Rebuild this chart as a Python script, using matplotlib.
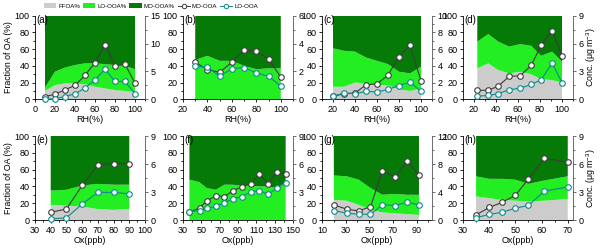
import numpy as np
import matplotlib.pyplot as plt
from matplotlib.ticker import AutoMinorLocator
from matplotlib.patches import Patch
from matplotlib.lines import Line2D

plt.rcParams['font.family'] = ['Liberation Sans', 'DejaVu Sans']
plt.rcParams['mathtext.default'] = 'regular'

# ---- data ----
# (a) RH
x_a = [10, 20, 30, 40, 50, 60, 70, 80, 90, 100]
ffoa_a = [10, 17, 19, 19, 18, 15, 13, 11, 10, 9]
lo_a = [4, 16, 19, 22, 25, 28, 29, 30, 30, 27]
moc_a = [0.5, 0.9, 1.7, 2.5, 4.3, 6.6, 9.8, 6.0, 6.3, 2.9]
loc_a = [0.0, 0.1, 0.5, 1.0, 2.0, 3.5, 5.4, 3.2, 3.2, 1.0]

# (b) RH, no FFOA
x_b = [30, 40, 50, 60, 70, 80, 90, 100]
lo_b = [47, 52, 46, 46, 40, 36, 37, 37]
moc_b = [2.66, 2.13, 1.94, 2.66, 3.53, 3.46, 2.86, 1.6]
loc_b = [2.37, 2.32, 1.65, 2.2, 2.28, 1.89, 1.65, 0.94]

# (c) RH
x_c = [20, 30, 40, 50, 60, 70, 80, 90, 100]
ffoa_c = [15, 15, 20, 19, 17, 17, 12, 10, 13]
lo_c = [46, 43, 37, 31, 29, 25, 21, 21, 26]
moc_c = [0.35, 0.67, 0.75, 1.73, 1.85, 2.9, 5.1, 6.5, 2.2]
loc_c = [0.35, 0.75, 0.67, 0.94, 0.87, 1.18, 1.65, 2.05, 0.94]

# (d) RH
x_d = [23, 33, 42, 52, 62, 72, 81, 91, 100]
ffoa_d = [37, 43, 35, 31, 33, 30, 24, 23, 20]
lo_d = [32, 35, 34, 32, 33, 34, 28, 34, 25]
moc_d = [0.97, 0.97, 1.42, 2.46, 2.54, 3.66, 5.8, 7.4, 4.7]
loc_d = [0.34, 0.41, 0.6, 1.04, 1.19, 1.6, 2.1, 3.9, 1.8]

# (e) Ox
x_e = [40, 50, 60, 70, 80, 90]
ffoa_e = [18, 17, 16, 13, 12, 13]
lo_e = [17, 19, 25, 30, 30, 29]
moc_e = [0.82, 1.18, 3.7, 5.9, 6.05, 6.0]
loc_e = [0.1, 0.25, 1.7, 2.96, 2.96, 2.8]

# (f) Ox, no FFOA
x_f = [37, 48, 56, 66, 75, 84, 94, 104, 113, 123, 132, 142]
lo_f = [48, 45, 38, 36, 42, 42, 41, 41, 40, 40, 38, 45]
moc_f = [0.82, 1.3, 2.07, 2.6, 2.5, 3.1, 3.57, 3.9, 4.9, 3.9, 5.1, 4.9]
loc_f = [0.9, 1.0, 1.25, 1.46, 1.86, 2.25, 2.5, 3.0, 3.14, 2.75, 3.4, 4.0]

# (g) Ox
x_g = [20, 31, 41, 51, 61, 72, 82, 92]
ffoa_g = [24, 23, 18, 12, 9, 8, 7, 6]
lo_g = [29, 29, 30, 26, 21, 23, 23, 24]
moc_g = [2.16, 1.54, 1.3, 1.9, 6.97, 6.15, 8.4, 6.4]
loc_g = [1.35, 0.96, 0.82, 0.82, 2.16, 2.07, 2.55, 2.16]

# (h) Ox
x_h = [35, 40, 45, 50, 55, 61, 70]
ffoa_h = [28, 26, 24, 23, 22, 23, 25]
lo_h = [24, 23, 25, 25, 21, 24, 27]
moc_h = [0.55, 1.34, 1.9, 2.65, 4.4, 6.6, 6.2]
loc_h = [0.25, 0.6, 0.83, 1.27, 1.56, 3.08, 3.55]

# ---- styles ----
c_ffoa = '#cccccc'
c_lo = '#22ee22'
c_mo = '#067a06'
c_moline = '#3c3c3c'
c_loline = '#0b8a8a'

fig = plt.figure(figsize=(6.0, 2.52), dpi=100)

lefts = [35, 183, 322, 463]
w = 110 / 600
rows = [((252 - 99.3) / 252, 83.6 / 252), ((252 - 220) / 252, 84 / 252)]

# label, x, ffoa, lo, mo conc, lo conc, xlim, xticks, right max, right step, xlabel
panels = [
    ('(a)', x_a, ffoa_a, lo_a, moc_a, loc_a, (0, 110), range(0, 101, 20), 15, 5, 'RH(%)'),
    ('(b)', x_b, None, lo_b, moc_b, loc_b, (20, 110), range(20, 101, 20), 6, 2, 'RH(%)'),
    ('(c)', x_c, ffoa_c, lo_c, moc_c, loc_c, (10, 110), range(20, 101, 20), 10, 2, 'RH(%)'),
    ('(d)', x_d, ffoa_d, lo_d, moc_d, loc_d, (10, 110), range(20, 101, 20), 9, 3, 'RH(%)'),
    ('(e)', x_e, ffoa_e, lo_e, moc_e, loc_e, (30, 100), range(30, 101, 10), 9, 3, 'Ox(ppb)'),
    ('(f)', x_f, None, lo_f, moc_f, loc_f, (30, 150), range(30, 151, 20), 9, 3, 'Ox(ppb)'),
    ('(g)', x_g, ffoa_g, lo_g, moc_g, loc_g, (10, 103), range(10, 91, 20), 12, 4, 'Ox(ppb)'),
    ('(h)', x_h, ffoa_h, lo_h, moc_h, loc_h, (30, 72), range(30, 71, 10), 9, 3, 'Ox(ppb)'),
]

for i, (lab, x, ffoa, lo, moc, loc, xlim, xt, rmax, rstep, xlab) in enumerate(panels):
    b, h = rows[i // 4]
    ax = fig.add_axes([lefts[i % 4] / 600, b, w, h])
    x = np.array(x)
    lo = np.array(lo)
    if ffoa is None:
        mo = 100 - lo
        ax.stackplot(x, lo, mo, colors=[c_lo, c_mo], lw=0)
    else:
        ffoa = np.array(ffoa)
        mo = 100 - ffoa - lo
        ax.stackplot(x, ffoa, lo, mo, colors=[c_ffoa, c_lo, c_mo], lw=0)
    ax.set_xlim(*xlim)
    ax.set_ylim(0, 100)
    ax.set_xticks(list(xt))
    ax.set_yticks(range(0, 101, 20))
    ax.xaxis.set_minor_locator(AutoMinorLocator(2))
    ax.yaxis.set_minor_locator(AutoMinorLocator(2))
    ax.tick_params(which='both', direction='out', labelsize=6.5, width=0.6, pad=1.5)
    ax.tick_params(which='major', length=2.5)
    ax.tick_params(which='minor', length=1.5)
    for s in ['top', 'right']:
        ax.spines[s].set_visible(False)
    for s in ['left', 'bottom']:
        ax.spines[s].set_linewidth(0.6)
    ax.set_xlabel(xlab, fontsize=6.5, labelpad=1)
    if i % 4 == 0:
        ax.set_ylabel('Fraction of OA (%)', fontsize=6.3, labelpad=1)
    ax.text(0.015, 1.01, lab, transform=ax.transAxes, ha='left', va='top', fontsize=7)

    ax2 = ax.twinx()
    ax2.plot(x, moc, color=c_moline, lw=0.8, marker='o', ms=4, mfc='white',
             mec=c_moline, mew=0.8, clip_on=False, zorder=3)
    ax2.plot(x, loc, color=c_loline, lw=0.8, marker='o', ms=4, mfc='white',
             mec=c_loline, mew=0.8, clip_on=False, zorder=3)
    ax2.set_ylim(0, rmax)
    ax2.set_yticks(np.arange(0, rmax + 0.1, rstep))
    ax2.yaxis.set_minor_locator(AutoMinorLocator(2))
    for s in ['top', 'left', 'bottom']:
        ax2.spines[s].set_visible(False)
    ax2.spines['right'].set_color('#555555')
    ax2.spines['right'].set_linewidth(0.6)
    ax2.tick_params(which='both', direction='out', labelsize=6.5, width=0.6, pad=1.5,
                    color='#555555')
    ax2.tick_params(which='major', length=2.5)
    ax2.tick_params(which='minor', length=1.5)
    if i % 4 == 3:
        ax2.set_ylabel('Conc. (μg m$^{-3}$)', fontsize=6.3, labelpad=0.5)

handles = [
    Patch(facecolor=c_ffoa, edgecolor='none'),
    Patch(facecolor=c_lo, edgecolor='none'),
    Patch(facecolor=c_mo, edgecolor='none'),
    Line2D([], [], color=c_moline, lw=0.7, marker='o', ms=3.2, mfc='white', mec=c_moline, mew=0.7),
    Line2D([], [], color=c_loline, lw=0.7, marker='o', ms=3.2, mfc='white', mec=c_loline, mew=0.7),
]
labels = ['FFOA%', 'LO-OOA%', 'MO-OOA%', 'MO-OOA', 'LO-OOA']
fig.legend(handles, labels, loc='center', bbox_to_anchor=(151 / 600, 1 - 6 / 252), ncol=5,
           frameon=False, fontsize=4.4, handlelength=2.0, handleheight=0.9,
           columnspacing=0.5, handletextpad=0.3, borderpad=0)

fig.savefig('out.png', dpi=100)
